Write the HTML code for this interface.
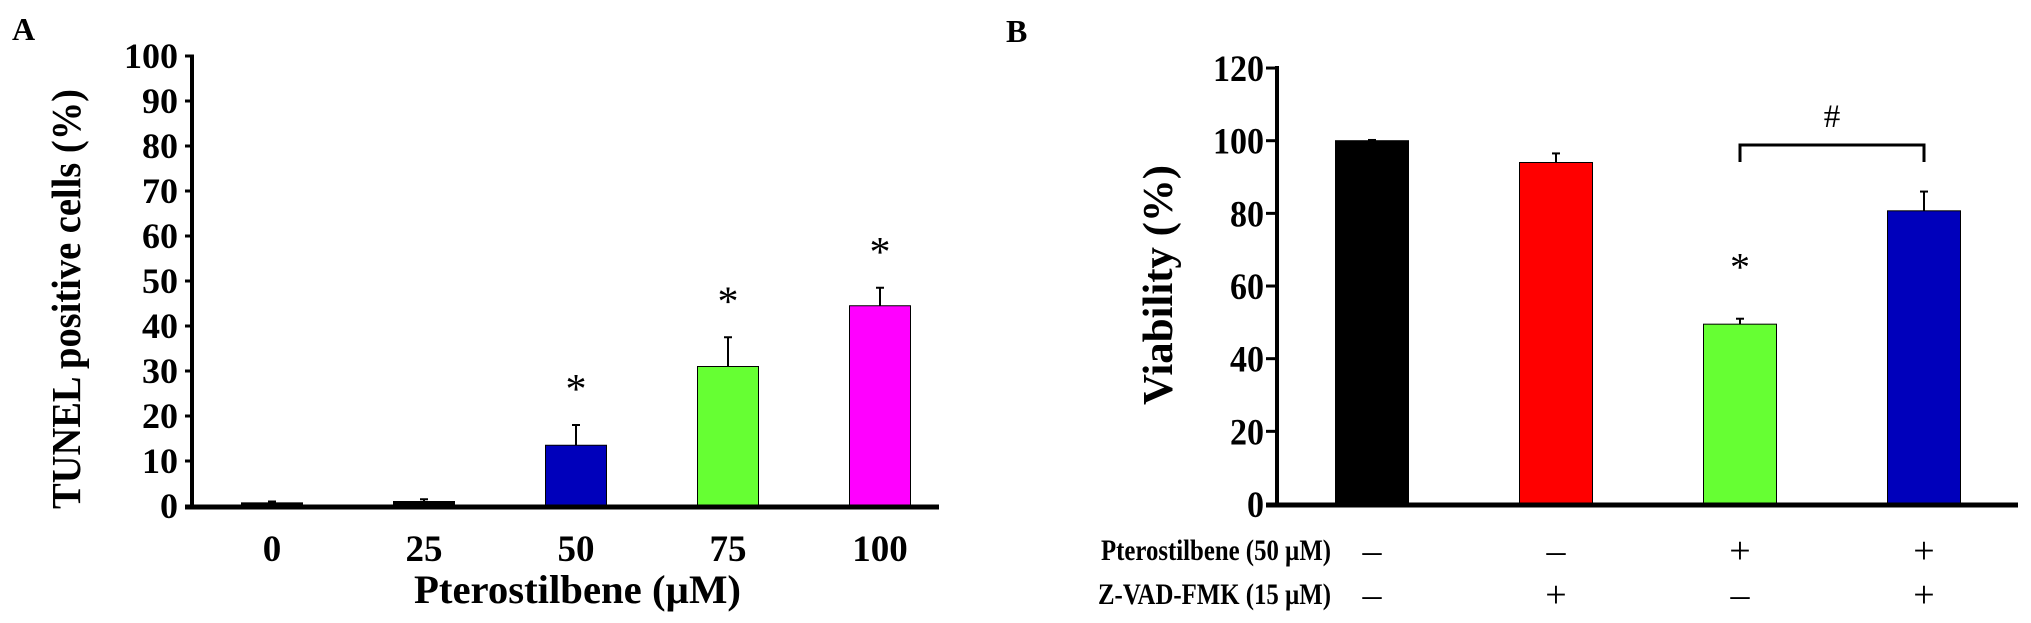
<!DOCTYPE html>
<html><head><meta charset="utf-8"><style>
body{margin:0;background:#fff;}
svg{display:block;font-family:"Liberation Serif",serif;font-weight:bold;}
</style></head><body>
<svg id="c" width="2031" height="623" viewBox="0 0 2031 623"></svg>
<script>
const catsA=["0","25","50","75","100"];
const valsA=[0.7,1,13.5,31,44.5];
const errA=[0.3,0.5,4.5,6.5,4];
const colorsA=["#000","#000","#0000bb","#66ff33","#ff00ff"];
const starA=[false,false,true,true,true];
const ticksA=[0,10,20,30,40,50,60,70,80,90,100];
const valsB=[100,94,49.5,80.7];
const errB=[0.2,2.5,1.5,5.3];
const colorsB=["#000","#ff0000","#66ff33","#0000bb"];
const starB=[false,false,true,false];
const ticksB=[0,20,40,60,80,100,120];
const pteroRow=["\u2013","\u2013","+","+"];
const zvadRow=["\u2013","+","\u2013","+"];
const NS="http://www.w3.org/2000/svg";
const svg=document.getElementById('c');
function el(tag,attrs,parent){const e=document.createElementNS(NS,tag);for(const k in attrs)e.setAttribute(k,attrs[k]);(parent||svg).appendChild(e);return e;}
function txt(s,attrs,parent){const e=el('text',attrs,parent);e.textContent=s;return e;}
// Panel A
const gA=el('g',{});


const yA=v=>506-v*4.5, xA=i=>272+i*152;
const lA=txt("A",{x:12,y:40,'font-size':32},gA);

ticksA.forEach(t=>{el('line',{x1:185,x2:194,y1:yA(t),y2:yA(t),stroke:'#000','stroke-width':3},gA);
const tl=txt(String(t),{x:178,y:yA(t)+12,'font-size':36,'text-anchor':'end'},gA);
});
valsA.forEach((v,i)=>{const cx=xA(i),w=61;
const b=el('rect',{x:cx-w/2,y:yA(v),width:w,height:506-yA(v),fill:colorsA[i],stroke:'#000','stroke-width':1},gA);

const top=yA(v+errA[i]);
el('line',{x1:cx,x2:cx,y1:yA(v),y2:top,stroke:'#000','stroke-width':2},gA);
el('line',{x1:cx-4,x2:cx+4,y1:top,y2:top,stroke:'#000','stroke-width':2},gA);
if(starA[i]){const s=txt("*",{x:cx,y:top-22,'font-size':42,'font-weight':'normal','text-anchor':'middle'},gA);
}
const xl=txt(catsA[i],{x:cx,y:561,'font-size':37,'text-anchor':'middle'},gA);
});
el('line',{x1:192,x2:192,y1:55,y2:508,stroke:'#000','stroke-width':4},gA);
el('line',{x1:185,x2:939,y1:507,y2:507,stroke:'#000','stroke-width':5},gA);
const xtA=txt("Pterostilbene (\u00b5M)",{x:414,y:603,'font-size':40,textLength:327,lengthAdjust:'spacingAndGlyphs'},gA);

const ytA=txt("TUNEL positive cells (%)",{x:0,y:0,'font-size':41,'text-anchor':'middle',textLength:420,lengthAdjust:'spacingAndGlyphs',transform:'translate(80,299) rotate(-90)'},gA);

// Panel B
const gB=el('g',{});


const yB=v=>504-v*3.633, xB=i=>1372+i*184;
const lB=txt("B",{x:1006,y:42,'font-size':32},gB);

ticksB.forEach(t=>{el('line',{x1:1266,x2:1276,y1:yB(t),y2:yB(t),stroke:'#000','stroke-width':3},gB);
const tl=txt(String(t),{x:1264,y:yB(t)+13,'font-size':37,'text-anchor':'end',textLength:(String(t).length*17),lengthAdjust:'spacingAndGlyphs'},gB);
});
valsB.forEach((v,i)=>{const cx=xB(i),w=73;
const b=el('rect',{x:cx-w/2,y:yB(v),width:w,height:504-yB(v),fill:colorsB[i],stroke:'#000','stroke-width':1},gB);

const top=yB(v+errB[i]);
el('line',{x1:cx,x2:cx,y1:yB(v),y2:top,stroke:'#000','stroke-width':2},gB);
el('line',{x1:cx-4,x2:cx+4,y1:top,y2:top,stroke:'#000','stroke-width':2},gB);
if(starB[i]){const s=txt("*",{x:cx,y:top-2,'font-size':40,'font-weight':'normal','text-anchor':'middle',dy:-36},gB);
}
const p=txt(pteroRow[i],{x:cx,y:563,'font-size':38,'font-weight':'normal','text-anchor':'middle'},gB);

const z=txt(zvadRow[i],{x:cx,y:607,'font-size':38,'font-weight':'normal','text-anchor':'middle'},gB);
});
el('line',{x1:1277,x2:1277,y1:66,y2:506,stroke:'#000','stroke-width':4},gB);
el('line',{x1:1266,x2:2018,y1:505,y2:505,stroke:'#000','stroke-width':5},gB);
const bx1=xB(2),bx2=xB(3);
const br=el('path',{d:`M${bx1},162 V145 H${bx2} V162`,fill:'none',stroke:'#000','stroke-width':3},gB);

const h=txt("#",{x:(bx1+bx2)/2,y:127,'font-size':33,'font-weight':'normal','text-anchor':'middle'},gB);

const ytB=txt("Viability (%)",{x:0,y:0,'font-size':42,'text-anchor':'middle',textLength:240,lengthAdjust:'spacingAndGlyphs',transform:'translate(1172,285) rotate(-90)'},gB);

const r1=txt("Pterostilbene (50 \u00b5M)",{x:1101,y:560,'font-size':30,textLength:230,lengthAdjust:'spacingAndGlyphs'},gB);

const r2=txt("Z-VAD-FMK (15 \u00b5M)",{x:1098,y:604,'font-size':30,textLength:233,lengthAdjust:'spacingAndGlyphs'},gB);

</script>
</body></html>
